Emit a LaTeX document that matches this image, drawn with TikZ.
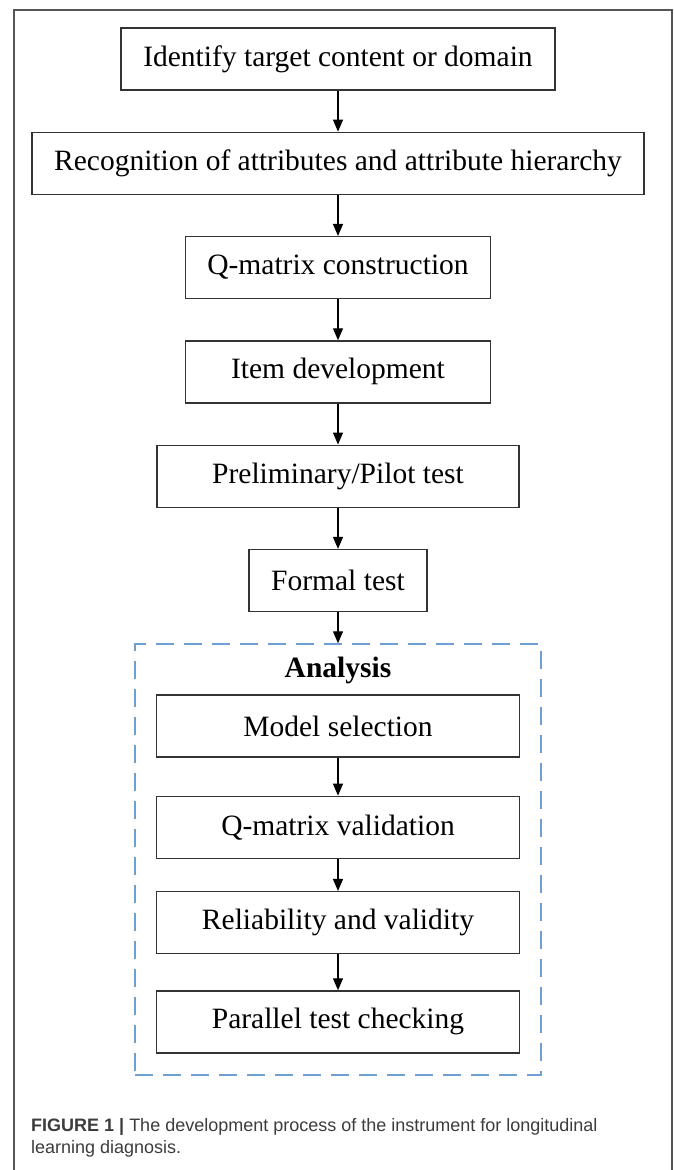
\documentclass[tikz,border=0pt]{standalone}
\usepackage{fontspec}
\setmainfont{Liberation Serif}
\setsansfont{Liberation Sans}
\usetikzlibrary{arrows.meta,positioning}
\definecolor{boxline}{HTML}{333333}
\definecolor{dashblue}{HTML}{6FA0D3}
\definecolor{capgray}{HTML}{3C3C3C}
\definecolor{framegray}{HTML}{555555}

\begin{document}
\begin{tikzpicture}[
  x=1pt, y=-1pt,
  node distance=41pt,
  block/.style={rectangle, draw=boxline, line width=1.3pt, minimum height=62pt,
    inner sep=0pt, align=center, font=\fontsize{29.5}{34}\selectfont},
  arr/.style={-{Triangle[length=12pt,width=10pt]}, line width=1.3pt},
  groupbox/.style={rectangle, draw=dashblue, line width=1.5pt,
    dash pattern=on 18pt off 10pt, inner sep=0pt}
]
  \useasboundingbox (0,0) rectangle (673,1170);
  \draw[framegray, line width=1.5pt] (14,1172) -- (14,10) -- (672,10) -- (672,1172);
  % main steps
  \node[block, minimum width=434pt] (target) at (338,59) {Identify target content or domain};
  \node[block, minimum width=612pt, below=of target] (attr) {Recognition of attributes and attribute hierarchy};
  \node[block, minimum width=305pt, below=of attr] (qcons) {Q-matrix construction};
  \node[block, minimum width=305pt, below=of qcons] (item) {Item development};
  \node[block, minimum width=362pt, below=of item] (pilot) {Preliminary/Pilot test};
  \node[block, minimum width=178pt, below=of pilot] (formal) {Formal test};
  \draw[arr] (target) -- (attr);
  \draw[arr] (attr) -- (qcons);
  \draw[arr] (qcons) -- (item);
  \draw[arr] (item) -- (pilot);
  \draw[arr] (pilot) -- (formal);
  %
  \node[groupbox, minimum width=406pt, minimum height=431pt] (analysis) at (338,859.5) {};
  \draw[arr] (formal) -- (analysis.north);
  \node[font=\bfseries\fontsize{29.5}{34}\selectfont] (analysislabel) at (338,670) {Analysis};
  \node[block, minimum width=363pt] (model) at (338,726) {Model selection};
  \node[block, minimum width=363pt, below=38pt of model] (qval) {Q-matrix validation};
  \node[block, minimum width=363pt, below=32pt of qval] (relia) {Reliability and validity};
  \node[block, minimum width=363pt, below=36pt of relia] (parallel) {Parallel test checking};
  \draw[arr] (model) -- (qval);
  \draw[arr] (qval) -- (relia);
  \draw[arr] (relia) -- (parallel);
  %
  \node[anchor=north west, align=left, inner sep=0pt, text=capgray,
    font=\sffamily\fontsize{18}{22}\selectfont] (caption) at (31,1118)
    {\textbf{FIGURE 1 |} The development process of the instrument for longitudinal\\learning diagnosis.};
\end{tikzpicture}
\end{document}
